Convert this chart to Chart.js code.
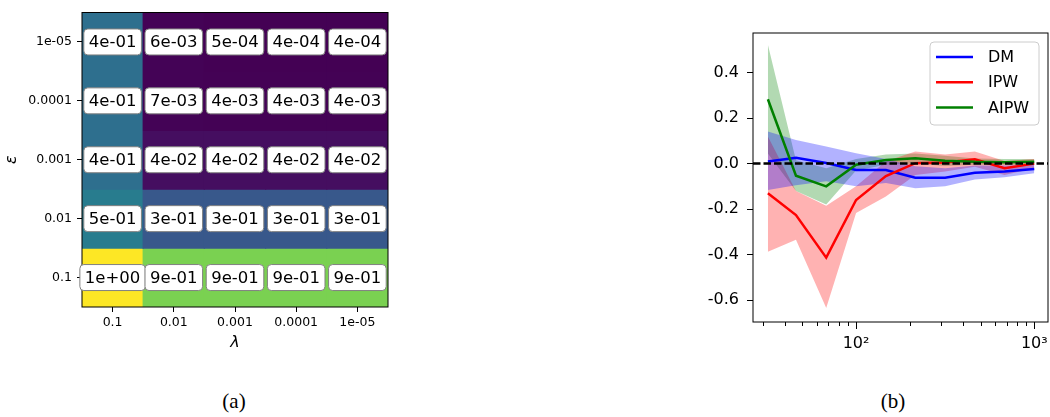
<!DOCTYPE html>
<html>
<head>
<meta charset="utf-8">
<script src="https://cdn.jsdelivr.net/npm/chart.js@4.4.1/dist/chart.umd.min.js"></script>
<style>
  body { margin:0; width:1050px; height:417px; background:#fff; position:relative; overflow:hidden; }
  #wa { position:absolute; left:0; top:0; width:400px; height:360px; }
  #wb { position:absolute; left:690px; top:0; width:360px; height:360px; }
  .cap { position:absolute; top:389px; width:60px; line-height:24px; text-align:center;
         font-family:"Liberation Serif"; font-size:21px; color:#000; }
</style>
</head>
<body>
<div id="wa"><canvas id="heat"></canvas></div>
<div id="wb"><canvas id="bias"></canvas></div>
<div class="cap" style="left:204px">(a)</div>
<div class="cap" style="left:863px">(b)</div>
<script>
// panel (a): error for each (epsilon, lambda) pair
const lambdas = ['0.1', '0.01', '0.001', '0.0001', '1e-05'];
const epsilons = ['1e-05', '0.0001', '0.001', '0.01', '0.1']; // top to bottom
const errEps1e5 = [0.4, 0.006, 0.0005, 0.0004, 0.0004];
const errEps1e4 = [0.4, 0.007, 0.004, 0.004, 0.004];
const errEps1e3 = [0.4, 0.04, 0.04, 0.04, 0.04];
const errEps1e2 = [0.46, 0.3, 0.3, 0.3, 0.3];
const errEps1e1 = [1.1, 0.88, 0.88, 0.88, 0.88];
const errRows = [errEps1e5, errEps1e4, errEps1e3, errEps1e2, errEps1e1];

// panel (b): bias vs sample size, mean with band
const nSamples = [32, 46, 68, 100, 147, 215, 316, 464, 681, 1000];
const dmMean   = [0.009, 0.026, 0.003, -0.028, -0.028, -0.062, -0.062, -0.040, -0.035, -0.024];
const dmLow    = [-0.116, -0.095, -0.078, -0.100, -0.085, -0.108, -0.100, -0.070, -0.060, -0.042];
const dmHigh   = [0.141, 0.104, 0.075, 0.046, 0.020, -0.012, -0.020, -0.008, -0.008, -0.006];
const ipwMean  = [-0.130, -0.226, -0.413, -0.160, -0.055, 0.002, 0.005, 0.019, -0.020, 0.000];
const ipwLow   = [-0.387, -0.335, -0.635, -0.217, -0.145, -0.050, -0.035, -0.014, -0.050, -0.020];
const ipwHigh  = [0.119, -0.120, -0.185, -0.100, 0.010, 0.053, 0.040, 0.053, 0.012, 0.020];
const aipwMean = [0.283, -0.053, -0.100, -0.005, 0.016, 0.024, 0.013, 0.008, 0.006, 0.008];
const aipwLow  = [0.045, -0.120, -0.180, -0.030, -0.005, 0.000, -0.010, -0.005, -0.005, -0.005];
const aipwHigh = [0.522, 0.015, -0.020, 0.020, 0.040, 0.045, 0.035, 0.022, 0.020, 0.020];

Chart.defaults.font.family = 'DejaVu Sans';
Chart.defaults.color = '#000';
Chart.defaults.animation = false;

// viridis colormap
const viridisStops = ['#440154', '#482475', '#414487', '#355f8d', '#2a788e', '#21918c',
                      '#22a884', '#44bf70', '#7ad151', '#bddf26', '#fde725'];
function viridis(t) {
  t = Math.max(0, Math.min(1, t));
  const p = t * 10, i = Math.min(9, Math.floor(p)), f = p - i;
  const a = viridisStops[i], b = viridisStops[i + 1];
  const c = k => {
    const x = parseInt(a.substr(k, 2), 16), y = parseInt(b.substr(k, 2), 16);
    return Math.round(x + (y - x) * f);
  };
  return 'rgb(' + c(1) + ',' + c(3) + ',' + c(5) + ')';
}
const allErr = errRows.flat();
const vmin = Math.min(...allErr), vmax = Math.max(...allErr);

function sci(v) {
  const [m, e] = v.toExponential(0).split('e');
  return m + 'e' + e[0] + e.slice(1).padStart(2, '0');
}

const heatDatasets = errRows.map((row, i) => ({
  data: lambdas.map(() => [i - 0.5, i + 0.5]),
  backgroundColor: row.map(v => viridis((v - vmin) / (vmax - vmin))),
  borderWidth: 0,
  inflateAmount: 0.6,
  grouped: false,
  barPercentage: 1,
  categoryPercentage: 1
}));

const heatLabels = {
  id: 'heatLabels',
  afterDatasetsDraw(chart) {
    const ctx = chart.ctx, xs = chart.scales.x, ys = chart.scales.y;
    ctx.save();
    const a = chart.chartArea;
    ctx.strokeStyle = '#000';
    ctx.lineWidth = 1;
    ctx.strokeRect(a.left, a.top, a.right - a.left, a.bottom - a.top);
    ctx.font = '16.5px "DejaVu Sans"';
    ctx.textAlign = 'center';
    ctx.textBaseline = 'middle';
    errRows.forEach((row, i) => row.forEach((v, j) => {
      const cx = xs.getPixelForValue(j), cy = ys.getPixelForValue(i);
      const txt = sci(v);
      const w = ctx.measureText(txt).width + 10, h = 26;
      ctx.beginPath();
      ctx.roundRect(cx - w / 2, cy - h / 2, w, h, 4);
      ctx.fillStyle = '#fff';
      ctx.fill();
      ctx.strokeStyle = '#808080';
      ctx.lineWidth = 1;
      ctx.stroke();
      ctx.fillStyle = '#000';
      ctx.fillText(txt, cx, cy + 1);
    }));
    ctx.restore();
  }
};

new Chart(document.getElementById('heat'), {
  type: 'bar',
  data: { labels: lambdas, datasets: heatDatasets },
  options: {
    responsive: true,
    maintainAspectRatio: false,
    layout: { padding: { top: 2, right: 12, left: 0, bottom: 0 } },
    plugins: { legend: { display: false }, tooltip: { enabled: false } },
    scales: {
      x: {
        grid: { offset: false, drawOnChartArea: false, tickLength: 5, color: '#000' },
        border: { display: false },
        ticks: { font: { size: 12.5 }, padding: 3, maxRotation: 0 },
        title: { display: true, text: 'λ', font: { size: 16, style: 'italic' }, padding: { top: 0, bottom: 8 } },
        afterFit(s) { s.height = 53; }
      },
      y: {
        type: 'linear',
        min: -0.5,
        max: 4.5,
        reverse: true,
        grid: { drawOnChartArea: false, tickLength: 5, color: '#000' },
        border: { display: false },
        ticks: { font: { size: 12.5 }, padding: 5, callback: v => epsilons[v] },
        afterBuildTicks(s) { s.ticks = epsilons.map((e, i) => ({ value: i })); },
        title: { display: true, text: 'ε', font: { size: 16, style: 'italic' }, padding: { top: 2, bottom: 0 } },
        afterFit(s) { s.width = 82; }
      }
    }
  },
  plugins: [heatLabels]
});

// panel (b)
const series = [
  { label: 'DM', mean: dmMean, low: dmLow, high: dmHigh, color: '#0000ff', band: 'rgba(0,0,255,0.3)' },
  { label: 'IPW', mean: ipwMean, low: ipwLow, high: ipwHigh, color: '#ff0000', band: 'rgba(255,0,0,0.3)' },
  { label: 'AIPW', mean: aipwMean, low: aipwLow, high: aipwHigh, color: '#008000', band: 'rgba(0,128,0,0.3)' }
];
const pts = arr => nSamples.map((n, i) => ({ x: n, y: arr[i] }));

const biasDatasets = [];
series.forEach(s => {
  biasDatasets.push({ data: pts(s.low), borderWidth: 0, borderColor: 'transparent', pointRadius: 0, fill: false, order: 10 });
  biasDatasets.push({ data: pts(s.high), borderWidth: 0, borderColor: 'transparent', pointRadius: 0, fill: '-1', backgroundColor: s.band, order: 10 });
});
series.forEach((s, k) => {
  biasDatasets.push({ label: s.label, data: pts(s.mean), borderColor: s.color, borderWidth: 2.5,
                      pointRadius: 0, fill: false, order: 3 - k, isLine: true });
});

const sup = { 0: '⁰', 1: '¹', 2: '²', 3: '³', 4: '⁴' };

const biasDecor = {
  id: 'biasDecor',
  afterDatasetsDraw(chart) {
    const ctx = chart.ctx, a = chart.chartArea, ys = chart.scales.y, xs = chart.scales.x;
    ctx.save();
    // dashed zero line
    const y0 = ys.getPixelForValue(0);
    ctx.setLineDash([7.5, 3]);
    ctx.strokeStyle = '#000';
    ctx.lineWidth = 2.5;
    ctx.beginPath();
    ctx.moveTo(a.left, y0);
    ctx.lineTo(a.right, y0);
    ctx.stroke();
    ctx.setLineDash([]);
    // frame
    ctx.lineWidth = 1;
    ctx.strokeRect(a.left, a.top, a.right - a.left, a.bottom - a.top);
    // log ticks, majors longer
    xs.ticks.forEach(t => {
      const e = Math.floor(Math.log10(t.value) + 1e-9);
      const m = t.value / Math.pow(10, e);
      if (Math.abs(m - Math.round(m)) > 1e-6) return;
      const len = Math.round(m) === 1 ? 7 : 4;
      const px = Math.round(xs.getPixelForValue(t.value)) + 0.5;
      ctx.beginPath();
      ctx.moveTo(px, a.bottom);
      ctx.lineTo(px, a.bottom + len);
      ctx.stroke();
    });
    // legend
    const lines = chart.data.datasets.filter(d => d.isLine);
    const bw = 109, bh = 83;
    const bx = a.right - 9 - bw, by = a.top + 9;
    ctx.beginPath();
    ctx.roundRect(bx, by, bw, bh, 4);
    ctx.fillStyle = 'rgba(255,255,255,0.8)';
    ctx.fill();
    ctx.strokeStyle = '#cccccc';
    ctx.stroke();
    ctx.font = '16px "DejaVu Sans"';
    ctx.textBaseline = 'middle';
    ctx.textAlign = 'left';
    lines.forEach((d, i) => {
      const ly = by + 15 + i * 25.3;
      ctx.strokeStyle = d.borderColor;
      ctx.lineWidth = 2.5;
      ctx.beginPath();
      ctx.moveTo(bx + 6, ly);
      ctx.lineTo(bx + 43, ly);
      ctx.stroke();
      ctx.fillStyle = '#000';
      ctx.fillText(d.label, bx + 58, ly + 1);
    });
    ctx.restore();
  }
};

new Chart(document.getElementById('bias'), {
  type: 'line',
  data: { datasets: biasDatasets },
  options: {
    responsive: true,
    maintainAspectRatio: false,
    layout: { padding: { top: 33, right: 2, left: 0, bottom: 0 } },
    plugins: { legend: { display: false }, tooltip: { enabled: false } },
    scales: {
      x: {
        type: 'logarithmic',
        min: 26.4,
        max: 1194,
        // invisible tick marks only push the labels down
        grid: { display: true, drawOnChartArea: false, drawTicks: true, tickLength: 12, tickColor: 'transparent' },
        border: { display: false },
        ticks: {
          autoSkip: false,
          maxRotation: 0,
          padding: 0,
          font: { size: 16 },
          callback: v => {
            const e = Math.log10(v);
            return Math.abs(e - Math.round(e)) < 1e-9 ? '10' + sup[Math.round(e)] : '';
          }
        },
        afterFit(s) { s.height = 38; }
      },
      y: {
        min: -0.696,
        max: 0.574,
        grid: { drawOnChartArea: false, tickLength: 6, color: '#000' },
        border: { display: false },
        ticks: {
          stepSize: 0.2,
          includeBounds: false,
          padding: 8,
          font: { size: 16 },
          callback: v => (Math.abs(v) < 1e-9 ? 0 : v).toFixed(1)
        },
        afterFit(s) { s.width = 63; }
      }
    }
  },
  plugins: [biasDecor]
});
</script>
</body>
</html>
